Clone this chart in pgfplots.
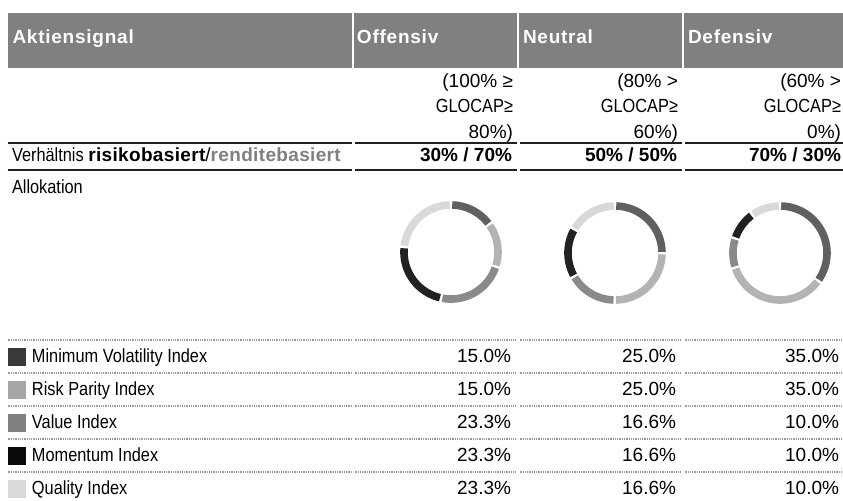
\documentclass[border=0pt]{standalone}
\usepackage{pgfplots}
\pgfplotsset{compat=1.18}
\usepgfplotslibrary{polar}
\usepackage{fontspec}
\setmainfont{Liberation Sans}
\newfontfamily\narrow[FakeStretch=0.86]{Liberation Sans}
\newfontfamily\hdrfont[LetterSpace=4]{Liberation Sans}
\newfontfamily\ratiofont[LetterSpace=1.8]{Liberation Sans}
\definecolor{hdr}{HTML}{808080}
\definecolor{dotc}{HTML}{9A9A9A}
% legend square colours
\definecolor{lMV}{HTML}{3A3A3A}
\definecolor{lRP}{HTML}{A6A6A6}
\definecolor{lVA}{HTML}{808080}
\definecolor{lMO}{HTML}{0A0A0A}
\definecolor{lQU}{HTML}{D9D9D9}
% donut segment colours
\definecolor{cMV}{HTML}{606060}
\definecolor{cRP}{HTML}{B3B3B3}
\definecolor{cVA}{HTML}{8A8A8A}
\definecolor{cMO}{HTML}{222222}
\definecolor{cQU}{HTML}{D9D9D9}

\pgfplotsset{donut/.style={hide axis, scale only axis, width=55pt, height=55pt,
  xmin=0, xmax=360, ymin=0, ymax=55, clip=false, anchor=center}}

% one ring segment: cumulative share from #1 to #2 (of \tot), colour #3
\newcommand\seg[3]{%
  \pgfmathsetmacro\segA{90-360*((#2)/\tot)+1.5}%
  \pgfmathsetmacro\segB{90-360*((#1)/\tot)-1.5}%
  \edef\doseg{\noexpand\addplot[draw=#3, line width=3.8pt, no marks, domain=\segA:\segB, samples=40] {47};}%
  \doseg
}
% shares: Minimum Volatility, Risk Parity, Value, Momentum, Quality
\newcommand\donut[5]{%
  \pgfmathsetmacro\tot{#1+#2+#3+#4+#5}%
  \seg{0}{#1}{cMV}%
  \seg{#1}{#1+#2}{cRP}%
  \seg{#1+#2}{#1+#2+#3}{cVA}%
  \seg{#1+#2+#3}{#1+#2+#3+#4}{cMO}%
  \seg{#1+#2+#3+#4}{#1+#2+#3+#4+#5}{cQU}%
}

\begin{document}
\begin{tikzpicture}
\begin{scope}[x=0.5pt,y=-0.5pt, every node/.style={inner sep=0pt, outer sep=0pt}]
\path[use as bounding box] (0,0) rectangle (843,500);
\fontsize{9.5}{11}\selectfont
% header
\fill[hdr] (7.5,12.5) rectangle (843,67.5);
\foreach \x in {352,517,682} \fill[white] (\x,12) rectangle (\x+2.2,68);
\node[anchor=base west, text=white] at (12.5,43) {\hdrfont\bfseries Aktiensignal};
\node[anchor=base west, text=white] at (357,43) {\hdrfont\bfseries Offensiv};
\node[anchor=base west, text=white] at (523,43) {\hdrfont\bfseries Neutral};
\node[anchor=base west, text=white] at (688,43) {\hdrfont\bfseries Defensiv};
% conditions
\node[anchor=base east] at (513,87) {(100\% ≥};
\node[anchor=base east] at (513,112.5) {\narrow GLOCAP≥};
\node[anchor=base east] at (513,138) {80\%)};
\node[anchor=base east] at (678,87) {(80\% >};
\node[anchor=base east] at (678,112.5) {\narrow GLOCAP≥};
\node[anchor=base east] at (678,138) {60\%)};
\node[anchor=base east] at (841,87) {(60\% >};
\node[anchor=base east] at (841,112.5) {\narrow GLOCAP≥};
\node[anchor=base east] at (841,138) {0\%)};
% double rules
\foreach \y in {143,170}{
  \draw[line width=1.3pt, black!88] (7.5,\y) -- (351.5,\y) (354.5,\y) -- (516.5,\y) (519.5,\y) -- (681.5,\y) (684.5,\y) -- (843,\y);
}
% ratio row
\node[anchor=base west] at (12,161) {{\narrow Verhältnis }{\ratiofont\bfseries risikobasiert}/\textcolor{hdr}{\ratiofont\bfseries renditebasiert}};
\node[anchor=base east] at (512,161) {\textbf{30\% / 70\%}};
\node[anchor=base east] at (677,161) {\textbf{50\% / 50\%}};
\node[anchor=base east] at (841,161) {\textbf{70\% / 30\%}};
\node[anchor=base west] at (12,193) {\narrow Allokation};
% donut centres
\coordinate (D1) at (451,252);
\coordinate (D2) at (615,253);
\coordinate (D3) at (780,253);
% dotted separators
\foreach \y in {340,373,406,439,472}{
  \draw[dotc, line width=0.55pt, dash pattern=on 0.45pt off 0.45pt] (7.5,\y) -- (351.5,\y) (354.5,\y) -- (516.5,\y) (519.5,\y) -- (681.5,\y) (684.5,\y) -- (843,\y);
}
% rows
\foreach \b/\c/\t/\o/\n/\d in {362/lMV/Minimum Volatility Index/15.0/25.0/35.0,
                               395/lRP/Risk Parity Index/15.0/25.0/35.0,
                               428/lVA/Value Index/23.3/16.6/10.0,
                               461/lMO/Momentum Index/23.3/16.6/10.0,
                               494/lQU/Quality Index/23.3/16.6/10.0}{
  \fill[\c] (8,\b-14) rectangle (26,\b+4);
  \node[anchor=base west] at (32,\b) {\narrow \t};
  \node[anchor=base east] at (511,\b) {\o\%};
  \node[anchor=base east] at (676,\b) {\n\%};
  \node[anchor=base east] at (839,\b) {\d\%};
}
\end{scope}
\begin{polaraxis}[donut, at={(D1)}]
  \donut{15.0}{15.0}{23.3}{23.3}{23.3}
\end{polaraxis}
\begin{polaraxis}[donut, at={(D2)}]
  \donut{25.0}{25.0}{16.6}{16.6}{16.6}
\end{polaraxis}
\begin{polaraxis}[donut, at={(D3)}]
  \donut{35.0}{35.0}{10.0}{10.0}{10.0}
\end{polaraxis}
\end{tikzpicture}
\end{document}
